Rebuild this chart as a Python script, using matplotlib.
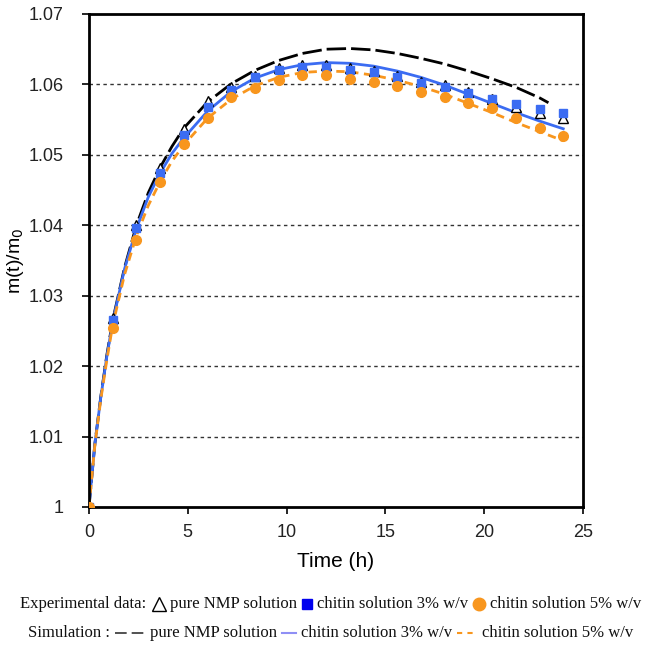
import numpy as np
import matplotlib
matplotlib.use("Agg")
import matplotlib.pyplot as plt
from matplotlib.lines import Line2D

# experimental data (every 1.2 h)
t_exp = [0, 1.2, 2.4, 3.6, 4.8, 6.0, 7.2, 8.4, 9.6, 10.8, 12.0, 13.2, 14.4,
         15.6, 16.8, 18.0, 19.2, 20.4, 21.6, 22.8, 24.0]
nmp_exp = [1.0, 1.0268, 1.0400, 1.0482, 1.0536, 1.0577, 1.0596, 1.0612, 1.0623, 1.0627, 1.0627,
           1.0623, 1.0619, 1.0612, 1.0604, 1.0599, 1.0589, 1.0579, 1.0568, 1.0560, 1.0553]
ch3_exp = [1.0, 1.0265, 1.0396, 1.0474, 1.0528, 1.0568, 1.0592, 1.0610, 1.0621, 1.0625, 1.0625,
           1.0621, 1.0617, 1.0610, 1.0602, 1.0597, 1.0588, 1.0579, 1.0572, 1.0565, 1.0560]
ch5_exp = [1.0, 1.0254, 1.0379, 1.0461, 1.0516, 1.0553, 1.0582, 1.0595, 1.0606, 1.0613, 1.0613,
           1.0607, 1.0603, 1.0598, 1.0589, 1.0582, 1.0574, 1.0567, 1.0552, 1.0538, 1.0527]

# simulation curves
t_sim = [0, 0.3, 0.6, 0.9, 1.2, 1.8, 2.4, 3.0, 3.6, 4.2, 4.8, 6.0, 7.2, 8.4, 9.6, 10.8,
         12.0, 13.2, 14.4, 15.6, 16.8, 18.0, 19.2, 20.4, 21.6, 22.8, 24.0]
nmp_sim = [1.0, 1.0090, 1.0157, 1.0215, 1.0265, 1.0340, 1.0400, 1.0446, 1.0482, 1.0512, 1.0538,
           1.0575, 1.0601, 1.0620, 1.0634, 1.0644, 1.0650, 1.0651, 1.0649, 1.0644, 1.0637,
           1.0629, 1.0619, 1.0608, 1.0596, 1.0581]
ch3_sim = [1.0, 1.0090, 1.0156, 1.0213, 1.0263, 1.0338, 1.0395, 1.0440, 1.0474, 1.0502, 1.0524,
           1.0562, 1.0590, 1.0609, 1.0621, 1.0628, 1.0631, 1.0630, 1.0626, 1.0619, 1.0610,
           1.0599, 1.0586, 1.0573, 1.0560, 1.0548, 1.0537]
ch5_sim = [1.0, 1.0088, 1.0153, 1.0208, 1.0258, 1.0330, 1.0385, 1.0428, 1.0462, 1.0491, 1.0514,
           1.0552, 1.0579, 1.0598, 1.0610, 1.0617, 1.0619, 1.0618, 1.0613, 1.0606, 1.0597,
           1.0586, 1.0573, 1.0560, 1.0546, 1.0533, 1.0520]
nmp_end = (23.25, 1.0574)  # pure NMP simulation stops a bit before 24 h

xticks = [0, 5, 10, 15, 20, 25]
yticks = [1.0, 1.01, 1.02, 1.03, 1.04, 1.05, 1.06, 1.07]
ytick_labels = ["1", "1.01", "1.02", "1.03", "1.04", "1.05", "1.06", "1.07"]

BLUE = "#3b6cf2"
ORANGE = "#f8961e"

fig = plt.figure(figsize=(6.61, 6.51), dpi=100)
ax = fig.add_axes([0.1346, 0.2212, 0.7474, 0.7573])

for y in yticks[1:-1]:
    ax.axhline(y, color="#333333", lw=1, ls=(0, (2.5, 2.5)), zorder=1)

# simulation lines
t_nmp = t_sim[:len(nmp_sim)] + [nmp_end[0]]
ax.plot(t_nmp, nmp_sim + [nmp_end[1]], color="black", lw=2.0, ls=(0, (7, 1.8)), zorder=2)
ax.plot(t_sim, ch3_sim, color=BLUE, lw=2.0, zorder=2)
ax.plot(t_sim, ch5_sim, color=ORANGE, lw=2.0, ls=(0, (3, 2)), zorder=2)

# experimental markers
ax.plot(t_exp, nmp_exp, ls="none", marker="^", ms=7, mfc="white", mec="black", mew=1.0, zorder=3)
ax.plot(t_exp, ch3_exp, ls="none", marker="s", ms=6, mfc=BLUE, mec=BLUE, zorder=4)
ax.plot(t_exp, ch5_exp, ls="none", marker="o", ms=7, mfc=ORANGE, mec=ORANGE, zorder=5)

ax.set_xlim(0, 25)
ax.set_ylim(1.0, 1.07)
ax.set_xticks(xticks)
ax.set_xticklabels([str(v) for v in xticks])
ax.set_yticks(yticks)
ax.set_yticklabels(ytick_labels)
ax.tick_params(direction="out", length=5, width=1.2, labelsize=13)
ax.tick_params(axis="y", pad=13)
ax.tick_params(axis="x", pad=7)
for lab in ax.get_xticklabels() + ax.get_yticklabels():
    lab.set_family("Liberation Sans")
    lab.set_color("#222222")
for s in ax.spines.values():
    s.set_linewidth(2)
ax.set_xlabel("Time (h)", fontsize=15, family="Liberation Sans", labelpad=8)
ax.set_ylabel("m(t)/m$_0$", fontsize=14, family="Liberation Sans")
ax.yaxis.set_label_coords(-0.127, 0.5)

# legend rows drawn as text pieces
FS = 12
fig.canvas.draw()
rend = fig.canvas.get_renderer()
W = fig.bbox.width


def draw_row(yfig, parts):
    placed = []
    total = 0
    for p in parts:
        if p[0] == "text":
            t = fig.text(0, yfig, p[1], fontsize=FS, family="Liberation Serif",
                         color="#111111", va="center", ha="left")
            w = t.get_window_extent(rend).width
            placed.append((t, w))
        elif p[0] == "gap":
            placed.append((None, p[1]))
            w = p[1]
        elif p[0] == "marker":
            m = Line2D([0], [yfig], marker=p[1], ms=p[2], mfc=p[3], mec=p[4], mew=1.0,
                       ls="none", transform=fig.transFigure)
            fig.add_artist(m)
            w = p[5]
            placed.append((m, w))
        elif p[0] == "line":
            ln = Line2D([0, 1], [yfig, yfig], color=p[1], lw=p[2], ls=p[3],
                        transform=fig.transFigure)
            fig.add_artist(ln)
            w = p[4]
            placed.append((ln, w))
        total += w
    x = (W - total) / 2
    for obj, w in placed:
        if isinstance(obj, Line2D):
            xd = obj.get_xdata()
            if len(xd) == 1:
                obj.set_xdata([(x + w / 2) / W])
            else:
                obj.set_xdata([x / W, (x + w) / W])
        elif obj is not None:
            obj.set_x(x / W)
        x += w


draw_row(0.072, [
    ("text", "Experimental data:"), ("gap", 6),
    ("marker", "^", 10, "white", "black", 14), ("gap", 4),
    ("text", "pure NMP solution"), ("gap", 5),
    ("marker", "s", 7, "#0000ee", "#0000ee", 10), ("gap", 5),
    ("text", "chitin solution 3% w/v"), ("gap", 5),
    ("marker", "o", 9, ORANGE, ORANGE, 12), ("gap", 5),
    ("text", "chitin solution 5% w/v"),
])

draw_row(0.028, [
    ("text", "Simulation :"), ("gap", 5),
    ("line", "#333333", 1.2, (0, (7, 3)), 30), ("gap", 5),
    ("text", "pure NMP solution"), ("gap", 5),
    ("line", "#8f8ff5", 1.5, "-", 14), ("gap", 5),
    ("text", "chitin solution 3% w/v"), ("gap", 5),
    ("line", ORANGE, 1.5, (0, (2.5, 2.5)), 20), ("gap", 5),
    ("text", "chitin solution 5% w/v"),
])

fig.savefig("out.png", dpi=100)
